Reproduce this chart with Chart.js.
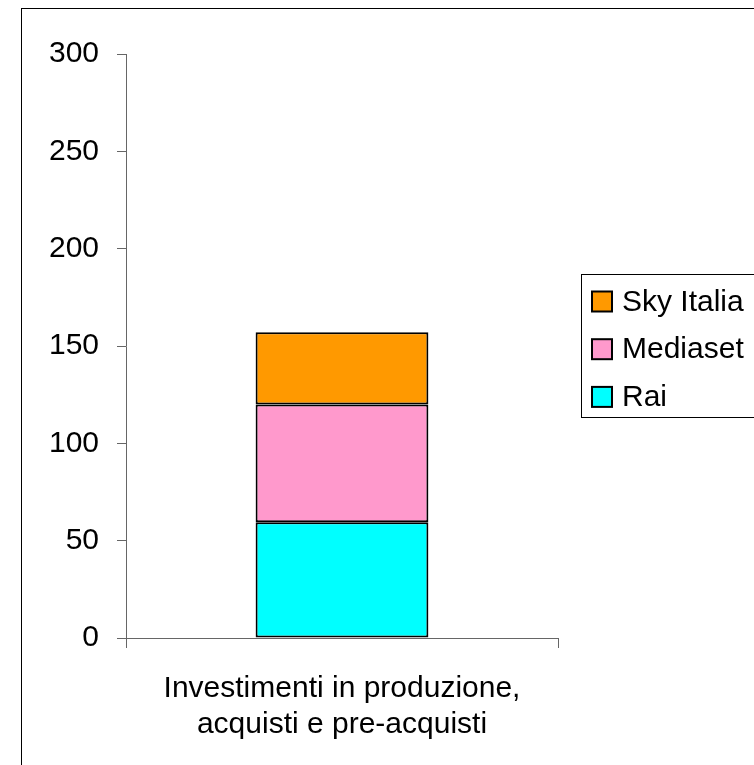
<!DOCTYPE html>
<html>
<head>
<meta charset="utf-8">
<script src="https://cdn.jsdelivr.net/npm/chart.js@4.4.1/dist/chart.umd.min.js"></script>
<style>
  html, body { margin: 0; padding: 0; background: #fff; }
  #wrap { width: 754px; height: 765px; position: relative; }
</style>
</head>
<body>
<div id="wrap"><canvas id="chart" width="754" height="765"></canvas></div>
<script>
const categories = [['Investimenti in produzione,', 'acquisti e pre-acquisti']];
const seriesNames = ['Rai', 'Mediaset', 'Sky Italia'];
const raiValues = [59.5];
const mediasetValues = [60.5];
const skyValues = [37];
const seriesColors = ['#00FFFF', '#FF99CC', '#FF9900'];
const yTicks = [0, 50, 100, 150, 200, 250, 300];

const FONT = '"Liberation Sans", Arial, sans-serif';
const axisGray = '#666666';

// cornice esterna + legenda disegnata a mano
const framePlugin = {
  id: 'frame',
  afterDraw(chart) {
    const ctx = chart.ctx;
    ctx.save();
    ctx.strokeStyle = '#000';
    ctx.lineWidth = 1;
    ctx.strokeRect(21.5, 8.5, 900, 900);

    // legenda
    ctx.strokeStyle = '#000';
    ctx.strokeRect(581.5, 274.5, 300, 143);
    const ds = chart.data.datasets.slice().reverse();
    ctx.font = '30px ' + FONT;
    ctx.textBaseline = 'middle';
    ctx.textAlign = 'left';
    ds.forEach((d, i) => {
      const cy = 301.5 + i * 47.7;
      ctx.fillStyle = d.backgroundColor;
      ctx.fillRect(592, cy - 10, 20, 20);
      ctx.lineWidth = 2;
      ctx.strokeStyle = '#000';
      ctx.strokeRect(592, cy - 10, 20, 20);
      ctx.fillStyle = '#000';
      ctx.fillText(d.label, 622, cy + 1);
    });
    ctx.restore();
  }
};

const values = [raiValues, mediasetValues, skyValues];

new Chart(document.getElementById('chart'), {
  type: 'bar',
  data: {
    labels: categories,
    datasets: seriesNames.map((name, i) => ({
      label: name,
      data: values[i],
      backgroundColor: seriesColors[i],
      borderColor: '#000',
      borderWidth: 2,
      borderSkipped: false,
      barPercentage: 0.4,
      categoryPercentage: 1
    }))
  },
  options: {
    responsive: false,
    animation: false,
    layout: { padding: { top: 54, right: 196, bottom: 0, left: 0 } },
    plugins: {
      legend: { display: false },
      tooltip: { enabled: false }
    },
    scales: {
      x: {
        stacked: true,
        afterFit: (s) => { s.height = 127; },
        grid: { offset: true, drawOnChartArea: false, drawTicks: true, tickLength: 10, color: axisGray },
        border: { color: axisGray, width: 1 },
        ticks: { color: '#000', padding: 22, font: { family: FONT, size: 30, lineHeight: 1.22 } }
      },
      y: {
        stacked: true,
        min: 0,
        max: 300,
        afterFit: (s) => { s.width = 126; },
        afterBuildTicks: (s) => { s.ticks = yTicks.map(v => ({ value: v })); },
        grid: { drawOnChartArea: false, drawTicks: true, tickLength: 9, color: axisGray },
        border: { color: axisGray, width: 1 },
        ticks: { color: '#000', padding: 18, font: { family: FONT, size: 30 } }
      }
    }
  },
  plugins: [framePlugin]
});
</script>
</body>
</html>
